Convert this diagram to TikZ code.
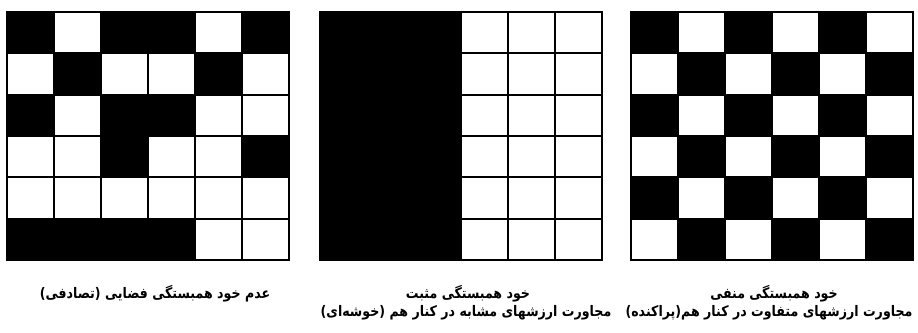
\documentclass[tikz,border=0pt]{standalone}
\usepackage{fontspec}
\newfontfamily\arabicfont[Script=Arabic]{DejaVu Sans}
\TeXXeTstate=1
\tikzset{
  gridline/.style={line width=2pt, line cap=rect},
  cellfill/.style={fill=black},
  label/.style={font=\arabicfont\bfseries\fontsize{13}{15}\selectfont, inner sep=0pt, anchor=center}
}
\newcommand{\cw}{47}
\newcommand{\chh}{41.333}
\newcommand{\rtltext}[1]{\scalebox{0.97}[1.12]{\beginR #1\endR}}
\begin{document}
\begin{tikzpicture}[x=1pt,y=-1pt]
\useasboundingbox[fill=white] (0,0) rectangle (918,332);
% grid 1 (random)
\foreach \c/\r in {0/0,2/0,3/0,5/0, 1/1,4/1, 0/2,2/2,3/2, 2/3,5/3, 0/5,1/5,2/5,3/5}
  \fill[cellfill] ({7+\c*\cw},{12+\r*\chh}) rectangle ++(\cw,\chh);
% grid 2 (clustered)
\foreach \r in {0,...,5}
  \foreach \c in {0,1,2}
    \fill[cellfill] ({320+\c*\cw},{12+\r*\chh}) rectangle ++(\cw,\chh);
% grid 3 (checkerboard)
\foreach \r in {0,...,5}
  \foreach \c in {0,...,5}{
    \pgfmathtruncatemacro{\parity}{mod(\r+\c,2)}
    \ifnum\parity=0
      \fill[cellfill] ({631+\c*\cw},{12+\r*\chh}) rectangle ++(\cw,\chh);
    \fi
  }
% grid lines
\foreach \x in {7,320,631}{
  \foreach \i in {0,...,6}{
    \draw[gridline] ({\x+\i*\cw},12) -- ({\x+\i*\cw},260);
    \draw[gridline] (\x,{12+\i*\chh}) -- ({\x+6*\cw},{12+\i*\chh});
  }
}
% labels
\node[label] (l1) at (155,294) {\rtltext{عدم خود همبستگی فضایی (تصادفی)}};
\node[label] (l2a) at (468,294) {\rtltext{خود همبستگی مثبت}};
\node[label] (l2b) at (466,313) {\rtltext{مجاورت ارزشهای مشابه در کنار هم (خوشه‌ای)}};
\node[label] (l3a) at (774,294) {\rtltext{خود همبستگی منفی}};
\node[label] (l3b) at (769,313) {\rtltext{مجاورت ارزشهای متفاوت در کنار هم(پراکنده)}};
\end{tikzpicture}
\end{document}
